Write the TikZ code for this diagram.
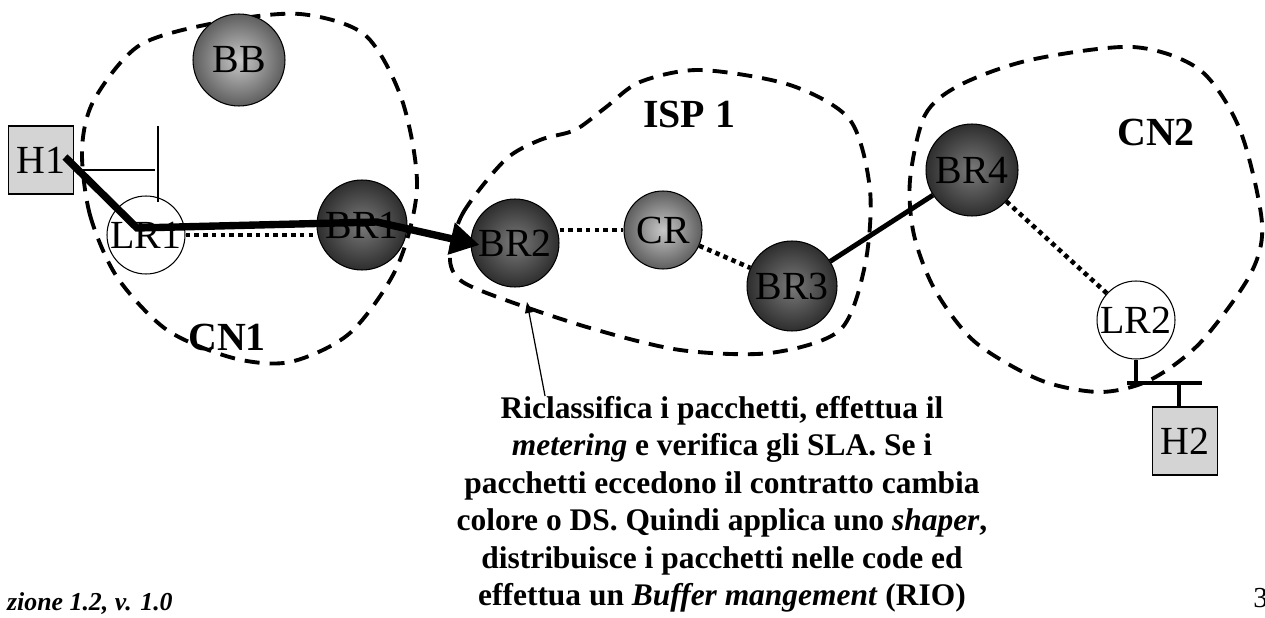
\documentclass[tikz,border=0pt]{standalone}
\usepackage{fontspec}
\setmainfont{Liberation Serif}
\usetikzlibrary{arrows.meta}

\definecolor{hostfill}{HTML}{D4D4D4}
\definecolor{lightin}{HTML}{C8C8C8}
\definecolor{lightout}{HTML}{5E5E5E}
\definecolor{darkin}{HTML}{7A7A7A}
\definecolor{darkout}{HTML}{2E2E2E}

\begin{document}
\begin{tikzpicture}[x=0.02cm,y=-0.02cm,
    lbl/.style={font=\fontsize{22.7}{26}\selectfont, inner sep=0pt},
    host/.style={lbl, draw, line width=0.6pt, fill=hostfill, minimum width=1.3cm, minimum height=1.36cm},
    border/.style={lbl, circle, draw, line width=0.6pt, minimum size=1.8cm, shading=radial, inner color=darkin, outer color=darkout},
    core/.style={lbl, circle, draw, line width=0.6pt, minimum size=1.56cm, shading=radial, inner color=lightin, outer color=lightout},
    leaf/.style={lbl, circle, draw, line width=0.6pt, minimum size=1.56cm, fill=white},
    netarea/.style={draw, line width=2.2pt, dash pattern=on 0.3cm off 0.2cm},
    dname/.style={font=\bfseries\fontsize{22.7}{26}\selectfont, inner sep=0pt},
    dotline/.style={line width=2.6pt, dash pattern=on 2.6pt off 2.4pt},
    flow/.style={line width=4.2pt, -{Triangle[length=0.58cm,width=0.62cm]}},
    link/.style={line width=2.8pt},
    tbar/.style={line width=2.1pt},
    pointer/.style={line width=0.7pt, -{Triangle[length=0.22cm,width=0.16cm]}}]

  \useasboundingbox (0,0) rectangle (1265,618);

  % domini
  \draw[netarea] plot[smooth cycle] coordinates {(82,150) (90,215) (117,277) (167,330) (233,358) (290,362) (350,333) (397,267) (417,187) (402,100) (365,35) (300,14) (220,22) (140,45) (94,100)};
  \draw[netarea] plot[smooth cycle] coordinates {(450,257) (463,213) (505,160) (540,140) (575,130) (605,108) (640,82) (700,70) (790,85) (850,120) (870,190) (865,265) (840,330) (770,353) (680,350) (590,328) (500,298) (460,280)};
  \draw[netarea] plot[smooth cycle] coordinates {(910,180) (925,115) (960,85) (1030,60) (1133,47) (1200,70) (1240,130) (1262,223) (1250,275) (1200,343) (1150,380) (1100,392) (1040,380) (975,342) (935,290) (914,235)};

  \node[dname] (CN1) at (227,337) {CN1};
  \node[dname] (ISP) at (689,114) {ISP 1};
  \node[dname] (CN2) at (1156,132) {CN2};

  % host e router
  \node[host] (H1) at (41,160) {H1};
  \node[host] (H2) at (1185,441) {H2};
  \node[core, minimum size=1.84cm] (BB) at (239,60) {BB};
  \node[leaf] (LR1) at (146,235) {LR1};
  \node[border] (BR1) at (362,225) {BR1};
  \node[border, minimum size=1.76cm] (BR2) at (515,243) {BR2};
  \node[core] (CR) at (663,230) {CR};
  \node[border] (BR3) at (792,286) {BR3};
  \node[border, minimum size=1.84cm] (BR4) at (972,170) {BR4};
  \node[leaf] (LR2) at (1136,320) {LR2};

  % collegamenti
  \draw[line width=1.1pt] (82,170) -- (155,170);
  \draw[line width=1.1pt] (158,126) -- (158,202);
  \draw[dotline] (LR1.east) -- (LR1.east -| BR1.west);
  \draw[flow] ([shift={(24,-3)}]H1.center) -- ([shift={(-9,-7)}]LR1.center)
    -- ([shift={(15,-3)}]BR1.center) -- ([shift={(9,2)}]BR2.west);
  \draw[dotline] (CR.west -| BR2.east) -- (CR.west);
  \draw[dotline] (CR) -- (BR3);
  \draw[link] (BR3) -- (BR4);
  \draw[dotline] (BR4) -- (LR2);
  \coordinate (bus) at (1138,383);
  \draw[tbar] (LR2.south) -- (LR2.south |- bus);
  \draw[tbar] (1127,383) -- (1202,383);
  \draw[tbar] ([xshift=-0.12cm]H2.north) -- ([xshift=-0.12cm]H2.north |- bus);

  % nota
  \node[anchor=north, align=center, inner sep=0pt,
    font=\bfseries\fontsize{17.9}{21.3}\selectfont] (note) at (722,396)
    {Riclassifica i pacchetti, effettua il\\
     \textit{metering} e verifica gli SLA. Se i\\
     pacchetti eccedono il contratto cambia\\
     colore o DS. Quindi applica uno \textit{shaper},\\
     distribuisce i pacchetti nelle code ed\\
     effettua un \textit{Buffer mangement} (RIO)};
  \draw[pointer] ([xshift=-3.54cm]note.north) -- ([shift={(12,59)}]BR2.center);

  \node[anchor=base east, inner sep=0pt, font=\bfseries\itshape\fontsize{14.7}{17}\selectfont] (foot) at (173,610) {zione 1.2, v. 1.0};
  \node[anchor=base west, inner sep=0pt, font=\fontsize{16.5}{19}\selectfont] (page) at (1253,607) {3};
\end{tikzpicture}
\end{document}
